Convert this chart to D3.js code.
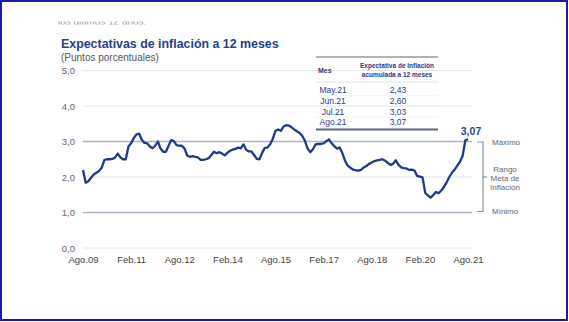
<!DOCTYPE html>
<html><head><meta charset="utf-8">
<script src="https://cdn.jsdelivr.net/npm/d3@7"></script>
<style>body{margin:0;background:#fff}svg{display:block}text{font-family:"Liberation Sans",Arial,sans-serif}</style>
</head><body><svg id="c" width="569" height="322"></svg>
<script>
const title = "Expectativas de inflación a 12 meses";
const subtitle = "(Puntos porcentuales)";
const xTickIdx = [0,18,36,54,72,90,108,126,144];
const xTickLabels = ["Ago.09","Feb.11","Ago.12","Feb.14","Ago.15","Feb.17","Ago.18","Feb.20","Ago.21"];
const yTicks = [0,1,2,3,4,5];
const values = [2.20,1.84,1.88,1.98,2.07,2.12,2.17,2.26,2.48,2.50,2.50,2.51,2.55,2.66,2.55,2.50,2.50,2.86,2.95,3.10,
3.20,3.22,3.05,2.96,2.95,2.86,2.81,2.88,3.00,2.80,2.71,2.71,2.88,3.04,3.01,2.90,2.88,2.88,2.80,2.60,
2.57,2.59,2.57,2.55,2.48,2.48,2.50,2.53,2.62,2.71,2.67,2.70,2.66,2.61,2.68,2.74,2.77,2.79,2.83,2.81,
2.92,2.77,2.72,2.72,2.62,2.51,2.50,2.68,2.82,2.83,2.92,3.08,3.30,3.34,3.30,3.42,3.46,3.45,3.40,3.34,
3.29,3.24,3.16,3.02,2.80,2.70,2.78,2.92,2.93,2.93,2.95,3.01,3.06,2.95,2.87,2.80,2.83,2.67,2.46,2.32,
2.26,2.21,2.19,2.18,2.20,2.27,2.31,2.37,2.41,2.45,2.47,2.48,2.50,2.46,2.40,2.34,2.37,2.47,2.34,2.27,
2.25,2.24,2.20,2.21,2.18,2.03,2.01,1.99,1.55,1.48,1.42,1.49,1.58,1.54,1.62,1.72,1.85,2.00,2.12,2.21,
2.32,2.43,2.60,3.03,3.07];
const tableMonths = ["May.21","Jun.21","Jul.21","Ago.21"];
const tableValues = ["2,43","2,60","3,03","3,07"];
const rangeMax = 3, rangeMin = 1;
const lastLabel = "3,07";

const svg = d3.select("#c");
const x = d3.scaleLinear().domain([0,144]).range([83,468]);
const y = d3.scaleLinear().domain([0,5]).range([248,70.5]);
const gridRight = 472;

// faded cut-off text at top
svg.append("defs").append("clipPath").attr("id","cp").append("rect").attr("x",0).attr("y",21.5).attr("width",569).attr("height",3);
svg.append("text").attr("x",58).attr("y",25).attr("font-size",10).attr("fill","#999").attr("clip-path","url(#cp)").text("los últimos 12 años.");

svg.append("text").attr("x",61).attr("y",48).attr("font-size",12.4).attr("font-weight","bold").attr("fill","#1f3f8f").text(title);
svg.append("text").attr("x",61).attr("y",61).attr("font-size",10).attr("fill","#555").text(subtitle);

// grid
const gy = svg.append("g");
gy.selectAll("line").data(yTicks).join("line")
  .attr("x1",83).attr("x2",gridRight).attr("y1",d=>y(d)).attr("y2",d=>y(d))
  .attr("stroke",d=> (d===rangeMax||d===rangeMin) ? "#aab3c9" : "#e6e6e6")
  .attr("stroke-width",d=> (d===rangeMax||d===rangeMin) ? 1.5 : 1);
gy.selectAll("text").data(yTicks).join("text")
  .attr("x",75).attr("y",d=>y(d)+3.5).attr("text-anchor","end").attr("font-size",9.5).attr("fill","#666")
  .text(d=>d3.format(".1f")(d).replace(".",","));

// x axis
const xa = svg.append("g").attr("transform","translate(0,253)")
  .call(d3.axisBottom(x).tickValues(xTickIdx).tickSize(0).tickFormat((d,i)=>xTickLabels[i]));
xa.select(".domain").remove();
xa.selectAll("text").attr("font-size",9.5).attr("fill","#444").attr("font-family","Liberation Sans, Arial, sans-serif").attr("dy","0.71em");

// line
svg.append("path").datum(values)
  .attr("d", d3.line().x((d,i)=>x(i)).y(d=>y(d)))
  .attr("fill","none").attr("stroke","#1f3a8a").attr("stroke-width",2.3).attr("stroke-linejoin","round");

svg.append("text").attr("x",x(144)+3).attr("y",y(values[144])-4).attr("text-anchor","middle")
  .attr("font-size",10.5).attr("font-weight","bold").attr("fill","#2a45a0").text(lastLabel);

// bracket
const bx = 483;
const br = svg.append("g").attr("stroke","#8a93a8").attr("stroke-width",1.2).attr("fill","none");
br.append("path").attr("d",`M${bx-6},${y(rangeMax)+0.5} H${bx} V${y(rangeMin)-1} H${bx-6}`);
br.append("line").attr("x1",bx).attr("x2",bx+4).attr("y1",y(2)).attr("y2",y(2));
const lab = svg.append("g").attr("font-size",8).attr("fill","#666");
lab.append("text").attr("x",492).attr("y",y(rangeMax)+3.5).text("Máximo");
lab.append("text").attr("x",492).attr("y",y(rangeMin)+1).text("Mínimo");
["Rango","Meta de","Inflación"].forEach((t,i)=>lab.append("text").attr("x",505).attr("y",172+i*9).attr("text-anchor","middle").text(t));

// table
const tb = svg.append("g");
tb.append("line").attr("x1",316).attr("x2",438).attr("y1",57).attr("y2",57).attr("stroke","#5b6784").attr("stroke-width",1.2);
tb.append("line").attr("x1",316).attr("x2",438).attr("y1",82).attr("y2",82).attr("stroke","#dfe3ea").attr("stroke-width",1);
tb.append("line").attr("x1",316).attr("x2",438).attr("y1",129.5).attr("y2",129.5).attr("stroke","#5b6784").attr("stroke-width",1.8);
tb.append("text").attr("x",318).attr("y",73).attr("font-size",7).attr("font-weight","bold").attr("fill","#2b3a8c").text("Mes");
tb.append("text").attr("x",397).attr("y",68).attr("text-anchor","middle").attr("font-size",6.5).attr("font-weight","bold").attr("fill","#2b3a8c").text("Expectativa de inflación");
tb.append("text").attr("x",397).attr("y",77).attr("text-anchor","middle").attr("font-size",6.5).attr("font-weight","bold").attr("fill","#2b3a8c").text("acumulada a 12 meses");
tableMonths.forEach((m,i)=>{
  const yy = 93 + i*10.8;
  tb.append("text").attr("x",333).attr("y",yy).attr("text-anchor","middle").attr("font-size",8.5).attr("fill","#2b3a8c").text(m);
  tb.append("text").attr("x",398).attr("y",yy).attr("text-anchor","middle").attr("font-size",8.5).attr("fill","#2b3a8c").text(tableValues[i]);
  if(i<3) tb.append("line").attr("x1",316).attr("x2",438).attr("y1",yy+2.6).attr("y2",yy+2.6).attr("stroke","#eef0f4").attr("stroke-width",0.8);
});

// border
svg.append("rect").attr("x",1).attr("y",1).attr("width",566).attr("height",319).attr("fill","none").attr("stroke","#1a1aa8").attr("stroke-width",2);
</script></body></html>
